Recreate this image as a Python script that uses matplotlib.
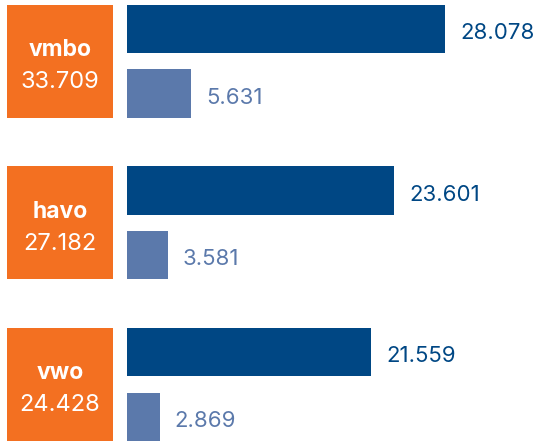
import matplotlib
matplotlib.use("Agg")
import matplotlib.pyplot as plt

# data
levels = ["vmbo", "havo", "vwo"]
totals = ["33.709", "27.182", "24.428"]
series_a = [28.078, 23.601, 21.559]
series_b = [5.631, 3.581, 2.869]

ORANGE = "#f37021"
DARK = "#004784"
LIGHT = "#5b79ab"

plt.rcParams["font.family"] = ["Inter", "DejaVu Sans"]

W, H = 537, 441
fig = plt.figure(figsize=(W / 100, H / 100), dpi=100)

ylim = (2.35, -0.38)
pos = list(range(len(levels)))

# orange boxes on the left
box_ax = fig.add_axes([7 / W, 0, 106 / W, 1])
box_ax.barh(pos, [1] * len(pos), height=0.7, color=ORANGE)
box_ax.set_xlim(0, 1)
box_ax.set_ylim(*ylim)
box_ax.axis("off")
for i, (name, total) in enumerate(zip(levels, totals)):
    box_ax.text(0.5, i - 0.07, name, color="white", fontsize=16.5, fontweight="bold",
                ha="center", va="center")
    box_ax.text(0.5, i + 0.13, total, color="white", fontsize=17,
                ha="center", va="center")

# bars
ax = fig.add_axes([127 / W, 0, (W - 127) / W, 1])
ax.barh([p - 0.2 for p in pos], series_a, height=0.3, color=DARK)
ax.barh([p + 0.2 for p in pos], series_b, height=0.3, color=LIGHT)
ax.set_xlim(0, 36.18)
ax.set_ylim(*ylim)
ax.axis("off")
for i in pos:
    ax.text(series_a[i] + 1.32, i - 0.175, f"{series_a[i]:.3f}", color=DARK, fontsize=16,
            ha="left", va="center")
    ax.text(series_b[i] + 1.32, i + 0.225, f"{series_b[i]:.3f}", color=LIGHT, fontsize=16,
            ha="left", va="center")

fig.savefig("out.png", dpi=100)
